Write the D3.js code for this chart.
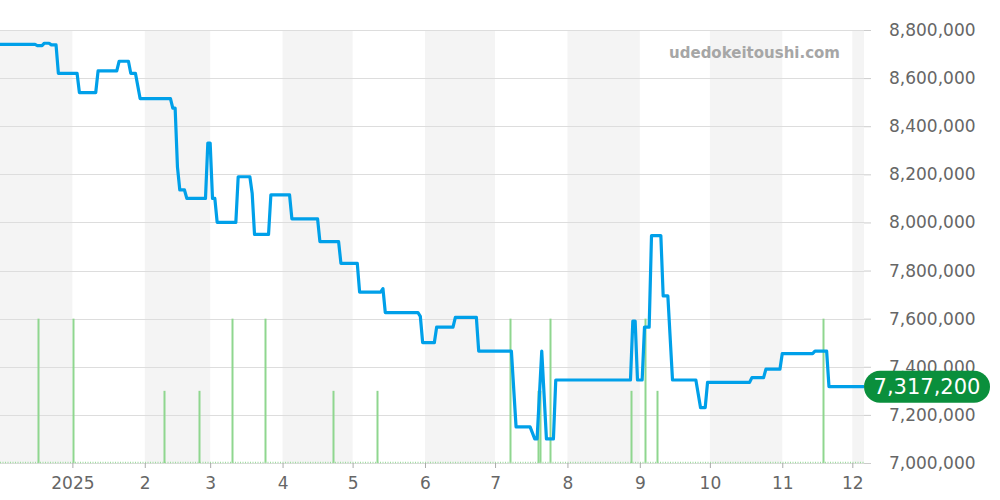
<!DOCTYPE html>
<html>
<head>
<meta charset="utf-8">
<script src="https://cdn.jsdelivr.net/npm/d3@7"></script>
<style>
  html, body { margin: 0; padding: 0; background: #fff; }
  svg { display: block; font-family: "DejaVu Sans", sans-serif; }
</style>
</head>
<body>
<div id="chart"></div>
<script>
// price history (date, yen)
const priceDates = [
  "2024-12-01","2024-12-16","2024-12-17","2024-12-19","2024-12-20","2024-12-22","2024-12-23","2024-12-25","2024-12-26",
  "2025-01-03","2025-01-04","2025-01-11","2025-01-12","2025-01-20","2025-01-21","2025-01-25","2025-01-26","2025-01-28","2025-01-30",
  "2025-02-12","2025-02-13","2025-02-14","2025-02-15","2025-02-16","2025-02-18","2025-02-19","2025-02-27","2025-02-28","2025-03-01",
  "2025-03-02","2025-03-03","2025-03-04","2025-03-12","2025-03-13","2025-03-18","2025-03-19","2025-03-20","2025-03-26","2025-03-27",
  "2025-04-04","2025-04-05","2025-04-16","2025-04-17","2025-04-25","2025-04-26","2025-05-03","2025-05-04","2025-05-13","2025-05-14",
  "2025-05-15","2025-05-29","2025-05-30","2025-05-31","2025-06-05","2025-06-06","2025-06-13","2025-06-14","2025-06-23","2025-06-24",
  "2025-07-08","2025-07-10","2025-07-16","2025-07-18","2025-07-19","2025-07-21","2025-07-23","2025-07-26","2025-07-27",
  "2025-08-28","2025-08-29","2025-08-30","2025-08-31","2025-09-02","2025-09-03","2025-09-05","2025-09-06","2025-09-10","2025-09-11",
  "2025-09-13","2025-09-15","2025-09-25","2025-09-27","2025-09-29","2025-09-30","2025-10-18","2025-10-19","2025-10-24","2025-10-25",
  "2025-10-31","2025-11-01","2025-11-14","2025-11-15","2025-11-20","2025-11-21","2025-12-06"
];
const priceValues = [
  8740000,8740000,8735000,8735000,8745000,8745000,8738000,8738000,8620000,
  8620000,8540000,8540000,8630000,8630000,8670000,8670000,8620000,8620000,8515000,
  8515000,8475000,8475000,8230000,8135000,8135000,8100000,8100000,8330000,8330000,
  8100000,8100000,8000000,8000000,8190000,8190000,8120000,7950000,7950000,8115000,
  8115000,8015000,8015000,7920000,7920000,7830000,7830000,7710000,7710000,7725000,
  7625000,7625000,7610000,7500000,7500000,7565000,7565000,7605000,7605000,7465000,
  7465000,7150000,7150000,7100000,7100000,7465000,7100000,7100000,7345000,
  7345000,7590000,7590000,7345000,7345000,7565000,7565000,7945000,7945000,7695000,
  7695000,7345000,7345000,7230000,7230000,7335000,7335000,7355000,7355000,7390000,
  7390000,7455000,7455000,7465000,7465000,7317200,7317200
];

// trade volume bars
const volumeDates = [
  "2024-12-17","2025-01-01","2025-02-09","2025-02-24","2025-03-10","2025-03-24","2025-04-22","2025-05-11",
  "2025-07-07","2025-07-19","2025-07-20","2025-07-24","2025-08-28","2025-09-03","2025-09-08","2025-11-18"
];
const volumeValues = [2,2,1,1,2,2,1,1,2,1,1,2,1,2,1,2];

const yTicks = [7000000,7200000,7400000,7600000,7800000,8000000,8200000,8400000,8600000,8800000];
const monthLabels = ["2025","2","3","4","5","6","7","8","9","10","11","12"];
const lastPrice = 7317200;
const watermark = "udedokeitoushi.com";

const width = 1000, height = 500;
const plot = { left: 0, right: 864, top: 30, bottom: 463 };
const parse = d3.timeParse("%Y-%m-%d");

const prices = priceDates.map((d, i) => ({ date: parse(d), value: priceValues[i] }));
const volumes = volumeDates.map((d, i) => ({ date: parse(d), value: volumeValues[i] }));

const x = d3.scaleTime()
  .domain([parse("2024-12-01"), parse("2025-12-06")])
  .range([plot.left, plot.right]);
const y = d3.scaleLinear()
  .domain([7000000, 8800000])
  .range([plot.bottom, plot.top]);
const yVol = d3.scaleLinear()
  .domain([0, 6])
  .range([plot.bottom, plot.top]);

const svg = d3.select("#chart").append("svg")
  .attr("width", width)
  .attr("height", height);

// alternating month bands
const months = d3.timeMonth.range(parse("2024-12-01"), parse("2026-01-01"));
svg.append("g")
  .selectAll("rect")
  .data(months.filter((m, i) => i % 2 === 0))
  .join("rect")
  .attr("x", d => x(d))
  .attr("y", plot.top)
  .attr("width", d => Math.min(x(d3.timeMonth.offset(d, 1)), plot.right) - x(d))
  .attr("height", plot.bottom - plot.top)
  .attr("fill", "#f4f4f4");

// horizontal grid
svg.append("g")
  .selectAll("line")
  .data(yTicks)
  .join("line")
  .attr("x1", plot.left)
  .attr("x2", plot.right)
  .attr("y1", d => Math.round(y(d)) + 0.5)
  .attr("y2", d => Math.round(y(d)) + 0.5)
  .attr("stroke", "#dddddd")
  .attr("stroke-width", 1);

// volume bars
svg.append("g")
  .selectAll("line")
  .data(volumes)
  .join("line")
  .attr("x1", d => Math.round(x(d.date)) + 1.5)
  .attr("x2", d => Math.round(x(d.date)) + 1.5)
  .attr("y1", yVol(0))
  .attr("y2", d => yVol(d.value))
  .attr("stroke", "#8fd68f")
  .attr("stroke-width", 2);

// volume baseline
svg.append("line")
  .attr("x1", plot.left)
  .attr("x2", plot.right)
  .attr("y1", plot.bottom - 0.5)
  .attr("y2", plot.bottom - 0.5)
  .attr("stroke", "#9edc9e")
  .attr("stroke-width", 1.5)
  .attr("stroke-dasharray", "1,1.5");

// watermark
svg.append("text")
  .attr("x", 840)
  .attr("y", 58)
  .attr("text-anchor", "end")
  .attr("font-size", 15)
  .attr("font-weight", "bold")
  .attr("fill", "#a6a6a6")
  .text(watermark);

// price line
const line = d3.line()
  .x(d => x(d.date))
  .y(d => y(d.value));

svg.append("path")
  .datum(prices)
  .attr("fill", "none")
  .attr("stroke", "#00a0e9")
  .attr("stroke-width", 3.2)
  .attr("stroke-linejoin", "round")
  .attr("d", line);

// right axis
const yAxis = svg.append("g")
  .attr("transform", `translate(${plot.right},0)`)
  .call(d3.axisRight(y).tickValues(yTicks).tickSize(7).tickPadding(18).tickFormat(d3.format(",")));
yAxis.select(".domain").remove();
yAxis.selectAll(".tick line").attr("stroke", "#cccccc");
yAxis.selectAll(".tick text")
  .attr("font-size", 17)
  .attr("font-family", "DejaVu Sans, sans-serif")
  .attr("fill", "#666666");

// bottom axis
const monthTicks = d3.timeMonth.range(parse("2025-01-01"), parse("2025-12-02"));
const xAxis = svg.append("g")
  .attr("transform", `translate(0,${plot.bottom})`)
  .call(d3.axisBottom(x).tickValues(monthTicks).tickSize(5).tickPadding(9)
    .tickFormat((d, i) => monthLabels[i]));
xAxis.select(".domain").remove();
xAxis.selectAll(".tick line").attr("stroke", "#aaaaaa");
xAxis.selectAll(".tick text")
  .attr("font-size", 17)
  .attr("font-family", "DejaVu Sans, sans-serif")
  .attr("fill", "#666666");

// last price pill
const ly = y(lastPrice);
const pill = svg.append("g");
pill.append("rect")
  .attr("x", plot.right)
  .attr("y", ly - 16)
  .attr("width", 126)
  .attr("height", 32)
  .attr("rx", 16)
  .attr("fill", "#0a8f3c");
pill.append("text")
  .attr("x", plot.right + 63)
  .attr("y", ly)
  .attr("dy", "0.35em")
  .attr("text-anchor", "middle")
  .attr("font-size", 21)
  .attr("fill", "#ffffff")
  .text(d3.format(",")(lastPrice));
</script>
</body>
</html>
